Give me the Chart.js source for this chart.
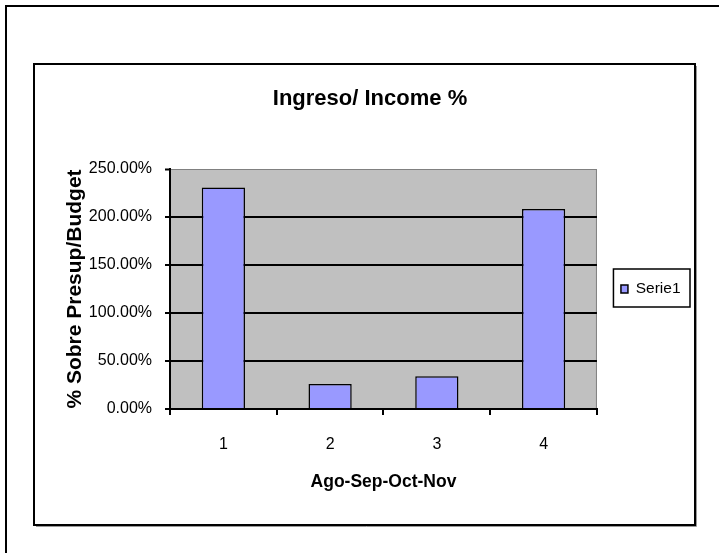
<!DOCTYPE html>
<html><head><meta charset="utf-8">
<script src="https://cdn.jsdelivr.net/npm/chart.js@4"></script>
<style>html,body{margin:0;padding:0;background:#fff}canvas{display:block}</style>
</head><body>
<canvas id="c" width="719" height="553"></canvas>
<script>
// ---- data ----
const categories = ['1', '2', '3', '4'];
const serie1 = [2.308, 0.26, 0.34, 2.083];   // fractions (230.8 %, ...)
const yTickValues = [0, 0.5, 1, 1.5, 2, 2.5];
const seriesName = 'Serie1';
const chartTitle = 'Ingreso/ Income %';
const xTitle = 'Ago-Sep-Oct-Nov';
const yTitle = '% Sobre Presup/Budget';

const FONT = "'Liberation Sans', Arial, sans-serif";
Chart.defaults.font.family = FONT;
Chart.defaults.color = '#000';

const decor = {
  id: 'decor',
  beforeDraw(chart) {
    const ctx = chart.ctx, a = chart.chartArea;
    ctx.save();
    ctx.fillStyle = '#fff';
    ctx.fillRect(0, 0, chart.width, chart.height);
    // outer frame (top + left)
    ctx.strokeStyle = '#000'; ctx.lineWidth = 2;
    ctx.beginPath(); ctx.moveTo(6, chart.height); ctx.lineTo(6, 6); ctx.lineTo(chart.width, 6); ctx.stroke();
    // chart box with light shadow
    ctx.strokeStyle = '#999'; ctx.lineWidth = 1;
    ctx.beginPath(); ctx.moveTo(36, 526.5); ctx.lineTo(696.5, 526.5); ctx.lineTo(696.5, 66); ctx.stroke();
    ctx.strokeStyle = '#000'; ctx.lineWidth = 2;
    ctx.strokeRect(34, 64, 661, 461);
    // plot area
    ctx.fillStyle = '#c0c0c0';
    ctx.fillRect(a.left, a.top, a.right - a.left, a.bottom - a.top);
    ctx.strokeStyle = '#808080'; ctx.lineWidth = 1;
    ctx.beginPath(); ctx.moveTo(a.left, a.top + 0.5); ctx.lineTo(a.right - 0.5, a.top + 0.5); ctx.lineTo(a.right - 0.5, a.bottom); ctx.stroke();
    ctx.restore();
  },
  afterDraw(chart) {
    const lg = chart.legend;
    if (!lg || !lg.legendHitBoxes || !lg.legendHitBoxes.length) return;
    const hb = lg.legendHitBoxes[0];
    const cy = hb.top + hb.height / 2;
    const ctx = chart.ctx;
    ctx.save();
    ctx.strokeStyle = '#000'; ctx.lineWidth = 1.5;
    ctx.strokeRect(hb.left - 7.5, cy - 20, hb.width + 17, 38);
    ctx.restore();
  }
};

new Chart(document.getElementById('c'), {
  type: 'bar',
  data: {
    labels: categories,
    datasets: [{
      label: seriesName,
      data: serie1,
      backgroundColor: '#9999ff',
      borderColor: '#000',
      borderWidth: 1.5,
      categoryPercentage: 1,
      barPercentage: 0.405
    }]
  },
  options: {
    responsive: false,
    animation: false,
    devicePixelRatio: 1,
    layout: { padding: { left: 49.5, right: 28.5, top: 0, bottom: 0 } },
    plugins: {
      tooltip: { enabled: false },
      title: {
        display: true,
        text: chartTitle,
        color: '#000',
        font: { size: 22, weight: 'bold', family: FONT },
        padding: { top: 85.3, bottom: 57.3 }
      },
      legend: {
        display: true,
        position: 'right',
        fullSize: false,
        labels: {
          boxWidth: 7,
          boxHeight: 8,
          padding: 24,
          color: '#000',
          font: { size: 15.5, family: FONT }
        }
      }
    },
    scales: {
      x: {
        offset: true,
        grid: { display: true, drawOnChartArea: false, drawTicks: true, tickLength: 6, offset: true, color: '#000', lineWidth: 2 },
        border: { display: true, color: '#000', width: 2 },
        ticks: { padding: 19.9, maxRotation: 0, color: '#000', font: { size: 16, family: FONT } },
        title: { display: true, text: xTitle, color: '#000', font: { size: 17.5, weight: 'bold', family: FONT }, padding: { top: 0, bottom: 60.8 } },
        afterFit(s) { s.height = 144; }
      },
      y: {
        min: 0, max: 2.5,
        afterBuildTicks(s) { s.ticks = yTickValues.map(v => ({ value: v })); },
        ticks: { padding: 13, color: '#000', font: { size: 16, family: FONT }, callback: v => (v * 100).toFixed(2) + '%' },
        grid: {
          color: c => (c.tick && c.tick.value === 2.5) ? '#808080' : '#000',
          lineWidth: c => (c.tick && c.tick.value === 2.5) ? 1 : 2,
          tickColor: '#000', tickWidth: 2, tickLength: 5
        },
        border: { display: true, color: '#000', width: 2 },
        title: { display: true, text: yTitle, color: '#000', font: { size: 21, weight: 'bold', family: FONT }, padding: { top: 13.5, bottom: 0 } },
        afterFit(s) { s.width = 120.5; }
      }
    }
  },
  plugins: [decor]
});
</script>
</body></html>
